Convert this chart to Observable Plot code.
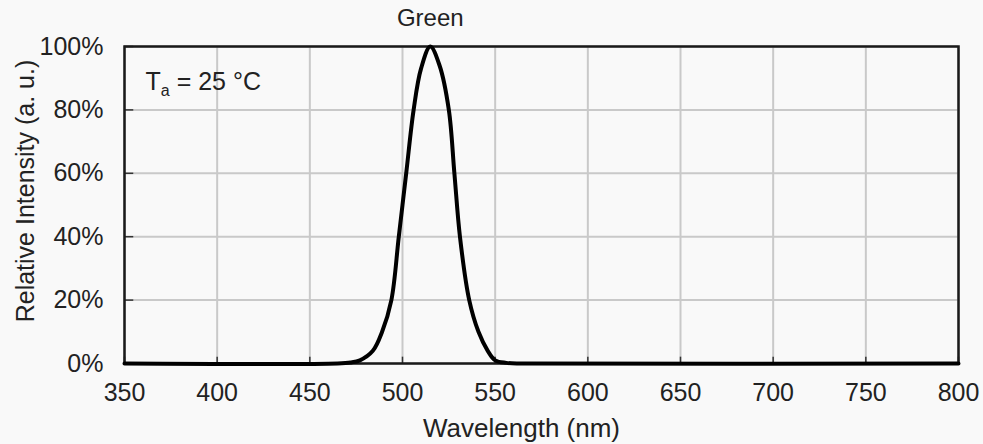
<!DOCTYPE html>
<html>
<head>
<meta charset="utf-8">
<script src="https://cdn.jsdelivr.net/npm/d3@7"></script>
<script src="https://cdn.jsdelivr.net/npm/@observablehq/plot@0.6"></script>
<style>
  html, body { margin: 0; padding: 0; background: #f9f9f9; }
  #chart { width: 983px; height: 444px; }
</style>
</head>
<body>
<div id="chart"></div>
<script>
// Spectrum
const wavelength = [350, 465, 472, 477, 484, 489, 494, 498, 502, 506, 510, 515, 520, 525, 528, 531, 536, 541, 546, 550, 556, 565, 800];
const intensity  = [0,   0,   0.3, 1,   4,   10,  20,  40,  60,  80,  93,  100, 94,  80,  60,  40,  20,  10,  4,   1,   0.2, 0,   0];

const xTicks = [350, 400, 450, 500, 550, 600, 650, 700, 750, 800];
const yTicks = [0, 20, 40, 60, 80, 100];
const seriesName = "Green";
const xTitle = "Wavelength (nm)";
const yTitle = "Relative Intensity (a. u.)";

const data = wavelength.map((w, i) => ({w, v: intensity[i]}));
const peak = data.reduce((a, b) => (b.v > a.v ? b : a));

const font = "'Liberation Sans', Arial, sans-serif";
const ink = "#222";

const plot = Plot.plot({
  width: 983,
  height: 444,
  marginLeft: 124,
  marginRight: 25,
  marginTop: 46,
  marginBottom: 81,
  style: {fontFamily: font, fontSize: "25px", background: "transparent", color: ink, overflow: "visible"},
  x: {domain: [350, 800], ticks: xTicks},
  y: {domain: [0, 100], ticks: yTicks},
  marks: [
    Plot.gridX(xTicks, {stroke: "#c9c9c9", strokeOpacity: 1, strokeWidth: 2}),
    Plot.gridY(yTicks, {stroke: "#c9c9c9", strokeOpacity: 1, strokeWidth: 2}),
    Plot.ruleY(yTicks, {x1: 350, x2: 355, stroke: "#333", strokeWidth: 1.5}),
    Plot.ruleX(xTicks, {y1: 0, y2: 2, stroke: "#333", strokeWidth: 1.5}),
    Plot.axisX(xTicks, {tickSize: 0, tickPadding: 20, label: null, fontSize: 25, fill: ink}),
    Plot.axisY(yTicks, {tickSize: 0, tickPadding: 21, label: null, tickFormat: d => d + "%", fontSize: 25, fill: ink}),
    Plot.frame({stroke: "#1a1a1a", strokeWidth: 2.5}),
    Plot.line(data, {x: "w", y: "v", stroke: "#000", strokeWidth: 4, curve: "catmull-rom"}),
    Plot.text([peak], {x: "w", frameAnchor: "top", lineAnchor: "middle", dy: -28, text: () => seriesName, fontSize: 24, fill: ink}),
    Plot.text([xTitle], {frameAnchor: "bottom", lineAnchor: "middle", textAnchor: "middle", dy: 65, dx: -20, text: d => d, fontSize: 26, fill: ink, letterSpacing: "0.3px"}),
    Plot.text([yTitle], {frameAnchor: "left", lineAnchor: "middle", textAnchor: "middle", rotate: -90, dx: -99, dy: -14, text: d => d, fontSize: 25, fill: ink}),
    Plot.text(["T"], {frameAnchor: "top-left", lineAnchor: "middle", textAnchor: "start", dx: 21, dy: 35, text: d => d, fontSize: 25, fill: ink, className: "ta-label"})
  ]
});

document.getElementById("chart").appendChild(plot);

// subscript for T_a = 25 °C
const t = d3.select(plot).select(".ta-label text");
t.text(null);
t.append("tspan").text("T");
t.append("tspan").attr("font-size", 16).attr("dy", 6).text("a");
t.append("tspan").attr("dy", -6).text(" = 25 °C");
</script>
</body>
</html>
